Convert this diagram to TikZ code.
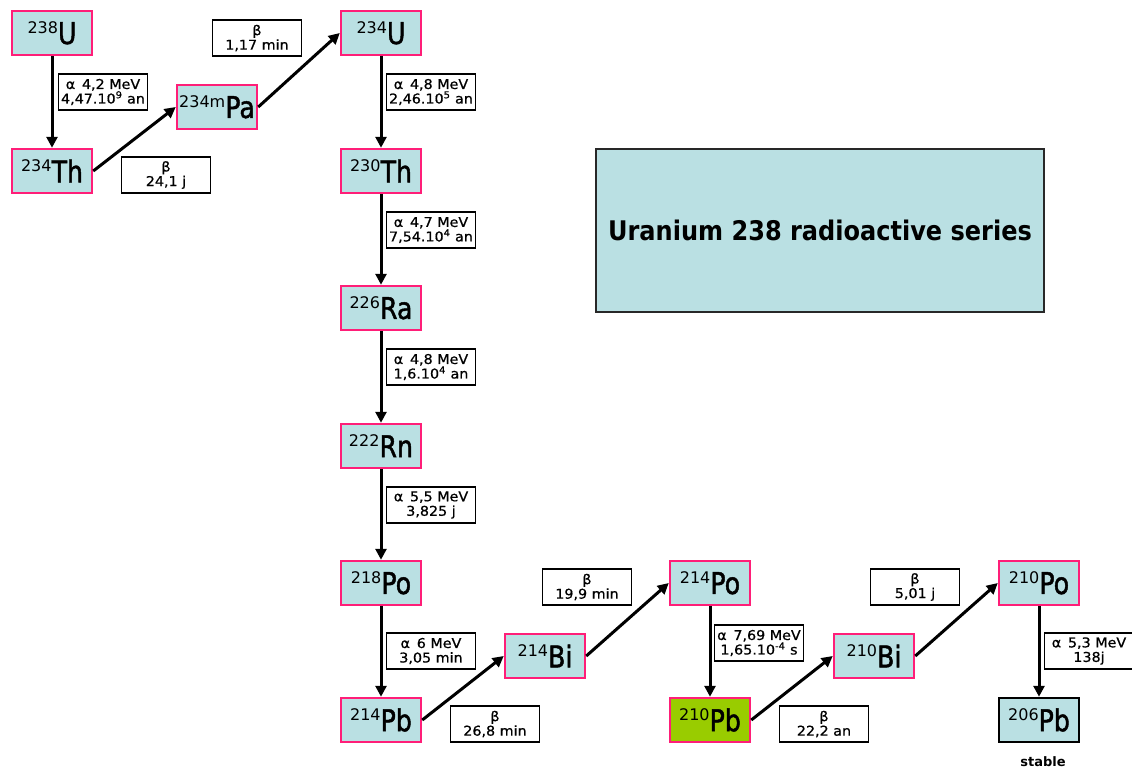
\documentclass[tikz,border=0pt]{standalone}
\usepackage{fontspec}
\setmainfont{DejaVu Sans}
\newfontfamily\elfont{DejaVu Sans}[FakeStretch=0.84,FakeBold=1.5]
\newfontfamily\ttlfont{DejaVu Sans}[FakeStretch=0.89]
\newfontfamily\lblfont{DejaVu Sans}[FakeStretch=1.06,FakeBold=0.7]
\usetikzlibrary{arrows.meta}
\definecolor{cyanfill}{RGB}{186,224,227}
\definecolor{pinkline}{RGB}{255,30,120}
\definecolor{greenfill}{RGB}{153,204,0}
\definecolor{ttlline}{RGB}{40,40,40}
\newcommand\iso[2]{\raisebox{10.5pt}{\fontsize{16}{16}\selectfont #1}{\elfont\fontsize{30}{30}\selectfont #2}}
\tikzset{
  elem/.style={draw=pinkline, line width=2.5pt, fill=cyanfill, minimum width=80pt, minimum height=44pt, inner sep=0pt},
  lbl/.style={draw=black, line width=1.1pt, fill=white, minimum width=89pt, minimum height=36pt, inner sep=0pt, align=center, font=\lblfont\fontsize{13.5}{14.5}\selectfont},
  decay/.style={line width=3pt, -{Triangle[length=11pt,width=11pt]}},
}
\begin{document}
\begin{tikzpicture}[x=1pt,y=-1pt]
\useasboundingbox (0,0) rectangle (1132,769);
% title
\node[draw=ttlline, line width=2pt, fill=cyanfill, minimum width=448pt, minimum height=163pt, inner sep=0pt,
      font=\ttlfont\bfseries\fontsize{27}{27}\selectfont] (title) at (820,230) {Uranium 238 radioactive series};
% nuclides
\node[elem] (U238)  at (52,33)   {\iso{238}{U}};
\node[elem] (Th234) at (52,171)  {\iso{234}{Th}};
\node[elem] (Pa234) at (217,107) {\iso{234m}{Pa}};
\node[elem] (U234)  at (381,33)  {\iso{234}{U}};
\node[elem] (Th230) at (381,171) {\iso{230}{Th}};
\node[elem] (Ra226) at (381,308) {\iso{226}{Ra}};
\node[elem] (Rn222) at (381,446) {\iso{222}{Rn}};
\node[elem] (Po218) at (381,583) {\iso{218}{Po}};
\node[elem] (Pb214) at (381,720) {\iso{214}{Pb}};
\node[elem] (Bi214) at (545,656) {\iso{214}{Bi}};
\node[elem] (Po214) at (710,583) {\iso{214}{Po}};
\node[elem, fill=greenfill] (Pb210) at (710,720) {\iso{210}{Pb}};
\node[elem] (Bi210) at (874,656) {\iso{210}{Bi}};
\node[elem] (Po210) at (1039,583) {\iso{210}{Po}};
\node[elem, draw=black] (Pb206) at (1039,720) {\iso{206}{Pb}};
\node[font=\bfseries\fontsize{13}{13}\selectfont] (stable) at (1043,762) {stable};
% decays
\draw[decay] (U238) -- (Th234);
\draw[decay] (Th234.east) -- (Pa234.west);
\draw[decay] (Pa234.east) -- (U234.west);
\draw[decay] (U234) -- (Th230);
\draw[decay] (Th230) -- (Ra226);
\draw[decay] (Ra226) -- (Rn222);
\draw[decay] (Rn222) -- (Po218);
\draw[decay] (Po218) -- (Pb214);
\draw[decay] (Pb214.east) -- (Bi214.west);
\draw[decay] (Bi214.east) -- (Po214.west);
\draw[decay] (Po214) -- (Pb210);
\draw[decay] (Pb210.east) -- (Bi210.west);
\draw[decay] (Bi210.east) -- (Po210.west);
\draw[decay] (Po210) -- (Pb206);
% labels
\node[lbl] (l1)  at (103,92)  {α\enspace 4,2 MeV\\4,47.10\textsuperscript{9} an};
\node[lbl] (l2)  at (166,175) {β\\24,1 j};
\node[lbl] (l3)  at (257,38)  {β\\1,17 min};
\node[lbl] (l4)  at (431,92)  {α\enspace 4,8 MeV\\2,46.10\textsuperscript{5} an};
\node[lbl] (l5)  at (431,230) {α\enspace 4,7 MeV\\7,54.10\textsuperscript{4} an};
\node[lbl] (l6)  at (431,367) {α\enspace 4,8 MeV\\1,6.10\textsuperscript{4} an};
\node[lbl] (l7)  at (431,505) {α\enspace 5,5 MeV\\3,825 j};
\node[lbl] (l8)  at (431,651) {α\enspace 6 MeV\\3,05 min};
\node[lbl] (l9)  at (495,724) {β\\26,8 min};
\node[lbl] (l10) at (587,587) {β\\19,9 min};
\node[lbl] (l11) at (759,643) {α\enspace 7,69 MeV\\1,65.10\textsuperscript{-4} s};
\node[lbl] (l12) at (824,724) {β\\22,2 an};
\node[lbl] (l13) at (915,587) {β\\5,01 j};
\node[lbl] (l14) at (1089,651) {α\enspace 5,3 MeV\\138j};
\end{tikzpicture}
\end{document}
